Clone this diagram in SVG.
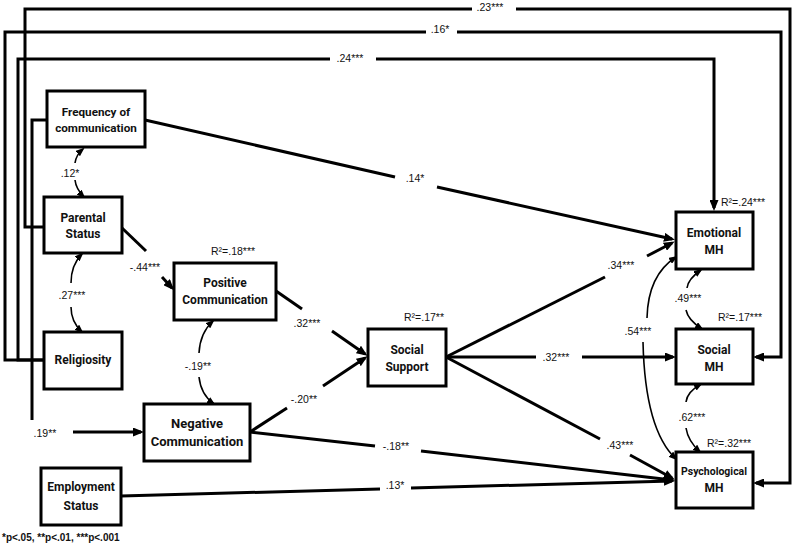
<svg xmlns="http://www.w3.org/2000/svg" width="800" height="547" viewBox="0 0 800 547">
<style>
.box{fill:#fff;stroke:#000;stroke-width:3}
.nl{font-family:Roboto,"Liberation Sans",Arial,sans-serif;font-weight:bold;font-size:12px;text-anchor:middle;fill:#111}
.ln{fill:none;stroke:#000;stroke-width:3}
.ar{fill:none;stroke:#000;stroke-width:3;marker-end:url(#ah)}
.cv{fill:none;stroke:#000;stroke-width:1.6;marker-end:url(#ahs)}
.lb{font-family:"Liberation Sans",Arial,sans-serif;font-size:10.5px;text-anchor:middle;fill:#111}
.r2{font-family:"Liberation Sans",Arial,sans-serif;font-size:10.5px;fill:#111}
.fn{font-family:"Liberation Sans",Arial,sans-serif;font-weight:bold;font-size:10px;fill:#111}
</style>
<defs>
<marker id="ah" markerUnits="userSpaceOnUse" markerWidth="11" markerHeight="9" refX="8" refY="4.5" orient="auto">
<path d="M0,0 L11,4.5 L0,9 z" fill="#000"/>
</marker>
<marker id="ahs" markerUnits="userSpaceOnUse" markerWidth="9" markerHeight="7" refX="7" refY="3.5" orient="auto">
<path d="M0,0 L9,3.5 L0,7 z" fill="#000"/>
</marker>
</defs>
<rect width="800" height="547" fill="#fff"/>
<g id="connectors">
<!-- outer loops -->
<polyline class="ln" points="44,227 25,227 25,9 472,9"/>
<polyline class="ar" points="516,9 790,9 790,483 756,483"/>
<text class="lb" x="490" y="11">.23***</text>
<polyline class="ln" points="44,360 5,360 5,32 426,32"/>
<polyline class="ar" points="457,32 781,32 781,357 756,357"/>
<text class="lb" x="440" y="33">.16*</text>
<polyline class="ln" points="44,360 18,360 18,59 330,59"/>
<polyline class="ar" points="376,59 714,59 714,208"/>
<text class="lb" x="350" y="62">.24***</text>
<!-- frequency to negative -->
<polyline class="ln" points="47,120 32,120 32,420"/>
<text class="lb" x="45" y="437">.19**</text>
<line class="ar" x1="73" y1="432" x2="141" y2="432"/>
<!-- frequency to emotional -->
<line class="ln" x1="145" y1="120" x2="395" y2="177"/>
<text class="lb" x="415" y="182">.14*</text>
<line class="ar" x1="437" y1="187" x2="672" y2="239"/>
<!-- parental to positive -->
<line class="ln" x1="122" y1="228" x2="146" y2="251"/>
<text class="lb" x="145" y="271">-.44***</text>
<line class="ar" x1="162" y1="277" x2="172" y2="288"/>
<!-- positive to social support -->
<line class="ln" x1="276" y1="291" x2="302" y2="309"/>
<text class="lb" x="307" y="327">.32***</text>
<line class="ar" x1="332" y1="331" x2="365" y2="354"/>
<!-- negative to social support -->
<line class="ln" x1="250" y1="432" x2="287" y2="408"/>
<text class="lb" x="304" y="403">-.20**</text>
<line class="ar" x1="323" y1="386" x2="365" y2="358"/>
<!-- social support to emotional -->
<line class="ln" x1="446" y1="357" x2="605" y2="277"/>
<text class="lb" x="621" y="269">.34***</text>
<line class="ar" x1="647" y1="256" x2="672" y2="243"/>
<!-- social support to social MH -->
<line class="ln" x1="446" y1="357" x2="536" y2="357"/>
<text class="lb" x="556" y="361">.32***</text>
<line class="ar" x1="582" y1="357" x2="673" y2="357"/>
<!-- social support to psych -->
<line class="ln" x1="446" y1="357" x2="600" y2="439"/>
<text class="lb" x="620" y="449">.43***</text>
<line class="ar" x1="630" y1="455" x2="672" y2="478"/>
<!-- negative to psych -->
<line class="ln" x1="250" y1="432" x2="375" y2="446"/>
<text class="lb" x="396" y="450">-.18**</text>
<line class="ar" x1="421" y1="451" x2="672" y2="480"/>
<!-- employment to psych -->
<line class="ln" x1="121" y1="496" x2="380" y2="489"/>
<text class="lb" x="395" y="489">.13*</text>
<line class="ar" x1="411" y1="488" x2="672" y2="481"/>
<!-- covariances -->
<path class="cv" d="M75,163 Q76,155 83,149"/>
<path class="cv" d="M75,180 Q76,189 84,197"/>
<text class="lb" x="70" y="177">.12*</text>
<path class="cv" d="M71,283 Q71,265 82,254"/>
<path class="cv" d="M71,307 Q71,322 82,332"/>
<text class="lb" x="72" y="299">.27***</text>
<path class="cv" d="M199,353 Q200,333 213,321"/>
<path class="cv" d="M199,377 Q201,395 214,404"/>
<text class="lb" x="198" y="370">-.19**</text>
<path class="cv" d="M687,288 Q688,279 701,270"/>
<path class="cv" d="M686,310 Q688,320 702,329"/>
<text class="lb" x="688" y="302">.49***</text>
<path class="cv" d="M686,402 Q687,392 701,384"/>
<path class="cv" d="M686,428 Q688,441 700,452"/>
<text class="lb" x="692" y="421">.62***</text>
<path class="cv" d="M647,318 Q648,275 676,257"/>
<path class="cv" d="M643,342 Q645,430 676,459"/>
<text class="lb" x="638" y="335">.54***</text>
</g>
<g id="frequency">
<rect class="box" x="47" y="91" width="98" height="56"/>
<text class="nl" x="96" y="116" style="font-size:11.7px">Frequency of</text>
<text class="nl" x="96" y="132" style="font-size:11.7px">communication</text>
</g>
<g id="parental">
<rect class="box" x="44" y="197" width="78" height="56"/>
<text class="nl" x="83" y="222">Parental</text>
<text class="nl" x="83" y="238">Status</text>
</g>
<g id="religiosity">
<rect class="box" x="44" y="332" width="78" height="57"/>
<text class="nl" x="83" y="364">Religiosity</text>
</g>
<g id="positive">
<rect class="box" x="174" y="263" width="102" height="57"/>
<text class="nl" x="225" y="287">Positive</text>
<text class="nl" x="225" y="304">Communication</text>
<text class="r2" x="211" y="255">R²=.18***</text>
</g>
<g id="negative">
<rect class="box" x="144" y="404" width="106" height="57"/>
<text class="nl" x="197" y="428" style="font-size:13px">Negative</text>
<text class="nl" x="197" y="446" style="font-size:13px">Communication</text>
</g>
<g id="employment">
<rect class="box" x="41" y="468" width="80" height="57"/>
<text class="nl" x="81" y="491">Employment</text>
<text class="nl" x="81" y="510">Status</text>
</g>
<g id="socialsupport">
<rect class="box" x="368" y="329" width="78" height="57"/>
<text class="nl" x="407" y="354">Social</text>
<text class="nl" x="407" y="371">Support</text>
<text class="r2" x="404" y="321">R²=.17**</text>
</g>
<g id="emotional">
<rect class="box" x="676" y="212" width="77" height="57"/>
<text class="nl" x="714" y="237">Emotional</text>
<text class="nl" x="714" y="254">MH</text>
<text class="r2" x="721" y="206">R²=.24***</text>
</g>
<g id="socialmh">
<rect class="box" x="676" y="329" width="77" height="55"/>
<text class="nl" x="714" y="354">Social</text>
<text class="nl" x="714" y="371">MH</text>
<text class="r2" x="718" y="321">R²=.17***</text>
</g>
<g id="psych">
<rect class="box" x="676" y="452" width="77" height="56"/>
<text class="nl" x="714" y="475" style="font-size:10.5px">Psychological</text>
<text class="nl" x="714" y="492">MH</text>
<text class="r2" x="707" y="447">R²=.32***</text>
</g>
<text class="fn" x="2" y="541">*p&lt;.05, **p&lt;.01, ***p&lt;.001</text>
</svg>
